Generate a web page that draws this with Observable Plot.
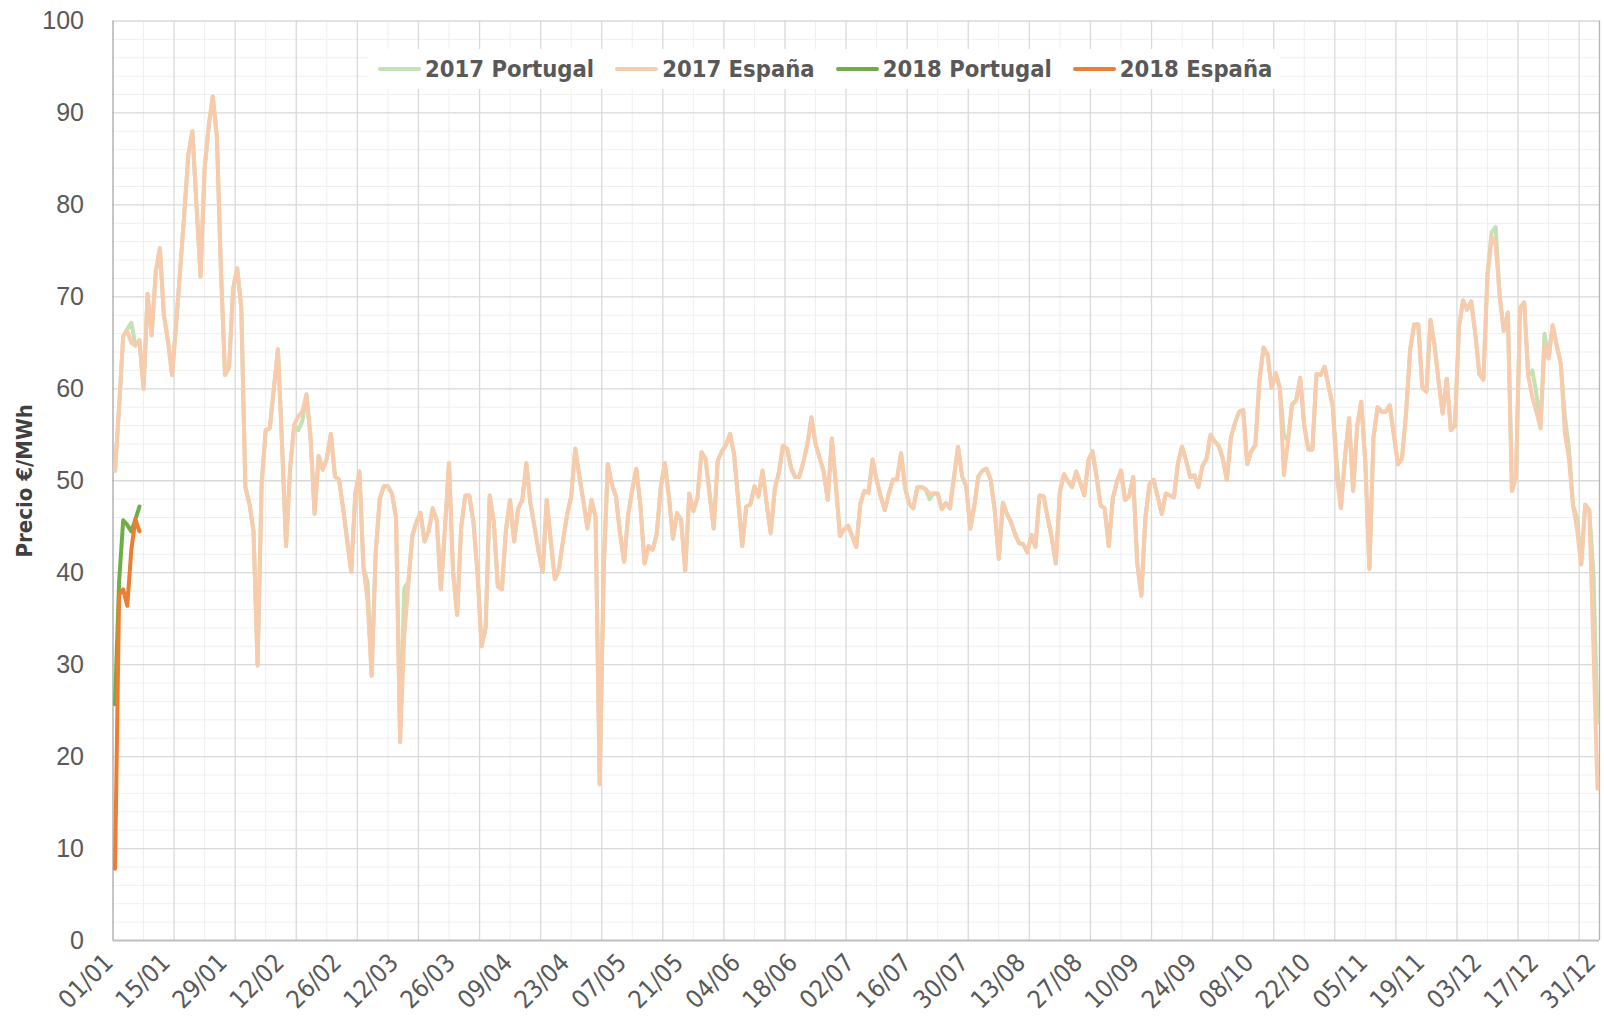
<!DOCTYPE html>
<html><head><meta charset="utf-8">
<script src="https://cdn.jsdelivr.net/npm/d3@7"></script>
<script src="https://cdn.jsdelivr.net/npm/@observablehq/plot@0.6"></script>
<style>
html,body{margin:0;padding:0;background:#fff;}
#wrap{position:relative;width:1604px;height:1031px;overflow:hidden;}
#legend{position:absolute;left:368px;top:49px;height:40px;padding:0 8px 0 10px;background:#fff;display:flex;align-items:center;gap:21px;
  font-family:"Liberation Sans Narrow","Arial Narrow","DejaVu Sans Condensed",sans-serif;font-weight:bold;font-size:23.6px;color:#595959;white-space:nowrap;}
#legend .item{display:flex;align-items:center;gap:4px;}
#legend .sw{display:inline-block;width:43px;height:4px;border-radius:2px;}
svg g[aria-label="y-axis tick label"]{font-family:"Liberation Sans",Arial,sans-serif;font-size:25px;fill:#595959;}
svg g[aria-label="x-axis tick label"]{font-family:"Liberation Sans Narrow","Arial Narrow","DejaVu Sans Condensed",sans-serif;font-size:25px;fill:#595959;}
svg g[aria-label="y-axis label"]{font-family:"Liberation Sans Narrow","Arial Narrow","DejaVu Sans Condensed",sans-serif;font-size:22px;font-weight:bold;fill:#404040;}
</style></head><body><div id="wrap"></div>
<script>
const dayLabels = ["01/01","15/01","29/01","12/02","26/02","12/03","26/03","09/04","23/04","07/05","21/05","04/06","18/06","02/07","16/07","30/07","13/08","27/08","10/09","24/09","08/10","22/10","05/11","19/11","03/12","17/12","31/12"];
const seriesNames = ["2017 Portugal","2017 España","2018 Portugal","2018 España"];
const seriesColors = ["#c5e0b4","#f8cbad","#70ad47","#ed7d31"];

const es2017 = [
51.1,58,65.7,66.3,65,64.7,65.3,60,70.3,65.8,
72.7,75.3,68,65.2,61.5,67,73,79,85.5,88,
80,72.2,84,88.6,91.8,87.5,73,61.5,62.3,70.9,
73.1,68.8,49.3,47.5,44.5,29.9,49.8,55.5,55.7,60,
64.3,54,42.9,51.4,56.1,57,57.5,59.4,54.7,46.4,
52.7,51.2,52.4,55.1,50.5,50.1,47,43.5,40.1,48.6,
51,40.6,37,28.8,42.2,48,49.4,49.4,48.6,46,
21.6,33,38.6,44,45.5,46.5,43.4,44.5,47,45.7,
38.2,44.7,51.9,40.1,35.4,45,48.4,48.4,45.5,40,
32,34,48.4,45.5,38.5,38.2,44.7,47.9,43.4,47,
47.9,51.9,47.5,45,42.3,40.1,47.9,43.4,39.3,40.4,
43.5,46.3,48.3,53.5,50.5,47.8,44.8,47.9,46,17,
40.6,51.8,49.6,48.3,44.2,41.2,46.3,49,51.3,47.3,
41,42.9,42.5,44.2,49.3,51.9,48.3,43.7,46.5,45.7,
40.2,48.6,46.7,48.1,53.1,52.4,48.5,44.8,52.2,53.2,
53.9,55.1,52.9,48,42.9,47.2,47.4,49.4,48.3,51.1,
47.5,44.3,49.1,50.9,53.8,53.5,51.4,50.4,50.4,52,
54,56.9,54,52.5,51,47.9,54.6,49.5,44,44.7,
45.1,44,42.8,47.5,48.9,48.7,52.3,50.1,48.3,46.8,
48.6,50.1,50.1,53,49.2,47.5,47,49.3,49.3,49.1,
48.6,48.6,48.6,46.9,47.6,47,50.4,53.7,50.5,49.4,
44.8,47.3,50.5,51.1,51.3,50.1,46.8,41.5,47.6,46.4,
45.5,44.2,43.2,43.1,42.2,44.1,42.8,48.4,48.3,46,
43.8,41,48.8,50.7,49.9,49.3,51,49.8,48.4,52.2,
53.2,50.5,47.3,47,42.9,48.1,49.9,51.1,47.9,48.3,
50.4,41,37.5,46,49.6,50.1,48.3,46.4,48.6,48.4,
48.2,51.9,53.7,52.2,50.4,50.6,49.3,51.6,52.4,55,
54.3,53.8,52.4,50.1,54.7,56.3,57.5,57.7,51.8,53.2,
53.9,60.9,64.5,63.7,60.1,61.7,60.1,50.6,54.3,58.3,
58.7,61.2,56,53.4,53.4,61.6,61.5,62.4,60.2,58.1,
50.4,47,52.5,56.8,48.9,56,58.6,52,40.4,54.7,
58,57.5,57.5,58.2,55,51.8,52.4,57.3,64.2,67,
67,60.1,59.7,67.5,64.7,60.8,57.3,61.1,55.5,56,
66.8,69.6,68.6,69.5,66,61.6,61,72.4,76.5,75.7,
70,66.3,68.3,48.9,50.4,68.8,69.4,61.4,59.1,57.5,
55.7,64.7,63.3,66.9,64.7,62.7,55.2,52.4,47.3,44.7,
40.9,47.4,46.8,32,16.5];

const pt2017 = [
51.1,58,65.7,66.5,67.2,64.7,65.3,60,70.3,65.8,
72.7,75.3,68,65.2,61.5,67,73,79,85.5,88,
80,72.2,84,88.6,91.8,87.5,73,61.5,62.3,70.9,
73.1,68.8,49.3,47.5,44.5,29.9,49.8,55.5,55.7,60,
64.3,54,42.9,51.4,56.1,55.5,56.5,59.4,54.7,46.4,
52.7,51.2,52.4,55.1,50.5,50.1,47,43.5,40.1,48.6,
51,40.6,39,28.8,42.2,48,49.4,49.4,48.6,46,
21.6,38.3,39,44,45.5,46.5,43.4,44.5,47,45.7,
38.2,44.7,51.9,40.1,35.4,45,48.4,48.4,45.5,40,
32,34,48.4,45.5,38.5,38.2,44.7,47.9,43.4,47,
47.9,51.9,47.5,45,42.3,40.1,47.9,43.4,39.3,40.4,
43.5,46.3,48.3,53.5,50.5,47.8,44.8,47.9,46,17,
40.6,51.8,49.6,48.3,44.2,41.2,46.3,49,51.3,47.3,
41,42.9,42.5,44.2,49.3,51.9,48.3,43.7,46.5,45.7,
40.2,48.6,46.7,48.1,53.1,52.4,48.5,44.8,52.2,53.2,
53.9,55.1,52.9,48,42.9,47.2,47.4,49.4,48.3,51.1,
47.5,44.3,49.1,50.9,53.8,53.5,51.4,50.4,50.4,52,
54,56.9,54,52.5,51,47.9,54.6,49.5,44,44.7,
45.1,44,42.8,47.5,48.9,48.7,52.3,50.1,48.3,46.8,
48.6,50.1,50.1,53,49.2,47.5,47,49.3,49.3,49.1,
48,48.6,48.6,46.9,47.6,47,50.4,53.7,50.5,49.4,
44.8,47.3,50.5,51.1,51.3,50.1,46.8,41.5,47.6,46.4,
45.5,44.2,43.2,43.1,42.2,44.1,42.8,48.4,48.3,46,
43.8,41,48.8,50.7,49.9,49.3,51,49.8,48.4,52.2,
53.2,50.5,47.3,47,42.9,48.1,49.9,51.1,47.9,48.3,
50.4,41,37.5,46,49.6,50.1,48.3,46.4,48.6,48.4,
48.2,51.9,53.7,52.2,50.4,50.6,49.3,51.6,52.4,55,
54.3,53.8,52.4,50.1,54.7,56.3,57.5,57.7,51.8,53.2,
53.9,60.9,64.5,63.7,60.1,61.7,60.1,55,54.3,58.3,
58.7,61.2,56,53.4,53.4,61.6,61.5,62.4,60.2,58.1,
52,47,52.5,56.8,48.9,56,58.6,52,40.4,54.7,
58,57.5,57.5,58.2,55,51.8,52.4,57.3,64.2,67,
67,60.1,59.7,67.5,64.7,60.8,57.3,61.1,55.5,56,
66.8,69.6,68.6,69.5,66,61.6,61,72.4,77,77.6,
70,66.3,68.3,48.9,50.4,68.8,69.4,61.4,62,59.5,
55.7,66,63.3,66.9,64.7,62.7,57,53.5,47.3,46,
40.9,47.4,46.8,40,23.7];

const pt2018 = [25.7,39,45.7,45.2,44.5,45.8,47.2];
const es2018 = [7.8,37.6,38.2,36.4,42.5,45.8,44.5];

const allSeries = [pt2017, es2017, pt2018, es2018];
const rows = allSeries.map((arr, s) => arr.map((v, i) => ({day: i, value: v, series: seriesNames[s]})));

const labelDays = d3.range(0, 365, 14);
const majorX = d3.range(14.5, 364.5, 15);
const minorX = d3.range(7, 364.5, 15);
const majorY = d3.range(10, 101, 10);
const minorY = d3.range(2, 100, 2).filter(v => v % 10 !== 0);

const chart = Plot.plot({
  width: 1604,
  height: 1031,
  marginLeft: 112.5,
  marginRight: 5,
  marginTop: 20.5,
  marginBottom: 91,
  x: {domain: [-0.5, 364.5]},
  y: {domain: [0, 100]},
  style: {background: "#fff"},
  marks: [
    Plot.ruleY(minorY, {stroke: "#efefef", strokeWidth: 1}),
    Plot.ruleX(minorX, {stroke: "#efefef", strokeWidth: 1}),
    Plot.ruleY(majorY, {stroke: "#d9d9d9", strokeWidth: 1.3}),
    Plot.ruleX(majorX, {stroke: "#d9d9d9", strokeWidth: 1.3}),
    Plot.ruleX([364.5], {stroke: "#b4b4b4", strokeWidth: 1.3}),
    Plot.ruleX([-0.5], {stroke: "#a6a6a6", strokeWidth: 1.3}),
    Plot.ruleY([0], {stroke: "#bfbfbf", strokeWidth: 2}),
    ...rows.map((r, s) => Plot.line(r, {x: "day", y: "value", stroke: seriesColors[s], strokeWidth: 4, strokeLinejoin: "round", strokeLinecap: "round"})),
    Plot.axisY({ticks: majorY.concat([0]), tickSize: 0, tickPadding: 29, label: "Precio €/MWh", labelAnchor: "center", labelArrow: "none", labelOffset: 97}),
    Plot.axisX({ticks: labelDays, tickFormat: d => dayLabels[labelDays.indexOf(d)], tickRotate: -45, tickSize: 0, tickPadding: 18, dx: -6, label: null})
  ]
});

const wrap = document.getElementById("wrap");
wrap.appendChild(chart);

const legend = document.createElement("div");
legend.id = "legend";
seriesNames.forEach((name, s) => {
  const item = document.createElement("div");
  item.className = "item";
  const sw = document.createElement("span");
  sw.className = "sw";
  sw.style.background = seriesColors[s];
  const tx = document.createElement("span");
  tx.textContent = name;
  item.appendChild(sw);
  item.appendChild(tx);
  legend.appendChild(item);
});
wrap.appendChild(legend);
</script>
</body></html>
